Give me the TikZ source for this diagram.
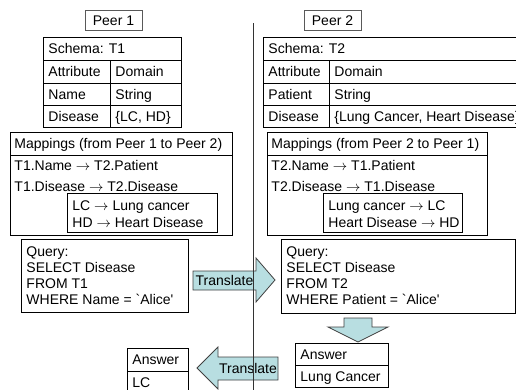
\documentclass[tikz,border=0pt]{standalone}
\usepackage{fontspec}
\setmainfont{Liberation Sans}[Ligatures=TeXOff]
\usepackage{xcolor}
\definecolor{arrowfill}{RGB}{184,222,225}

\tikzset{
  txt/.style={anchor=west, inner sep=0pt, text height=10pt, text depth=0pt,
    font=\fontsize{14}{16}\selectfont},
  peerbox/.style={draw=black!65, line width=0.8pt, inner sep=0pt, minimum width=57pt,
    minimum height=20pt, text height=10pt, text depth=0pt, font=\fontsize{14}{16}\selectfont},
  fatarrow/.style={draw=black!75, line width=0.8pt, fill=arrowfill},
}

\begin{document}
\begin{tikzpicture}[x=1pt, y=-1pt, line width=0.9pt]
  \useasboundingbox (0,0) rectangle (516,389);

  % Peer labels
  \node[peerbox] (peerA) at (113.5,20) {Peer 1};
  \node[peerbox] (peerB) at (332.5,20) {Peer 2};

  % Schema of peer 1
  \draw (43,37) rectangle (181,127);
  \draw (43,60) -- (181,60) (43,83) -- (181,83) (43,105) -- (181,105);
  \draw (110,60) -- (110,127);
  \node[txt] (schemaA) at (48,48.5) {Schema: T1};
  \node[txt] (attrA) at (48,71.5) {Attribute};
  \node[txt] (domA) at (115,71.5) {Domain};
  \node[txt] (nameA) at (48,94) {Name};
  \node[txt] (strA) at (115,94) {String};
  \node[txt] (disA) at (48,116) {Disease};
  \node[txt] (valA) at (115,116) {\{LC, HD\}};

  % Schema of peer 2 (runs off the right edge)
  \draw (530,37) -- (263,37) -- (263,127) -- (530,127);
  \draw (263,60) -- (530,60) (263,83) -- (530,83) (263,105) -- (530,105);
  \draw (329,60) -- (329,127);
  \node[txt] (schemaB) at (268,48.5) {Schema: T2};
  \node[txt] (attrB) at (268,71.5) {Attribute};
  \node[txt] (domB) at (334,71.5) {Domain};
  \node[txt] (nameB) at (268,94) {Patient};
  \node[txt] (strB) at (334,94) {String};
  \node[txt] (disB) at (268,116) {Disease};
  \node[txt] (valB) at (334,116) {\{Lung Cancer, Heart Disease\}};

  % Mappings 1 -> 2
  \draw (10,132) rectangle (232,235);
  \draw (10,155) -- (232,155);
  \draw (67,193) rectangle (217,232);
  \node[txt] (mapA) at (14,143.5) {Mappings (from Peer 1 to Peer 2)};
  \node[txt] (mapA1) at (14,165) {T1.Name $\rightarrow$ T2.Patient};
  \node[txt] (mapA2) at (14,186) {T1.Disease $\rightarrow$ T2.Disease};
  \node[txt] (valmapA1) at (72,205) {LC $\rightarrow$ Lung cancer};
  \node[txt] (valmapA2) at (72,222) {HD $\rightarrow$ Heart Disease};

  % Mappings 2 -> 1
  \draw (267,132) rectangle (487,235);
  \draw (267,155) -- (487,155);
  \draw (323,193) rectangle (462,232);
  \node[txt] (mapB) at (271,143.5) {Mappings (from Peer 2 to Peer 1)};
  \node[txt] (mapB1) at (271,165) {T2.Name $\rightarrow$ T1.Patient};
  \node[txt] (mapB2) at (271,186) {T2.Disease $\rightarrow$ T1.Disease};
  \node[txt] (valmapB1) at (328,205) {Lung cancer $\rightarrow$ LC};
  \node[txt] (valmapB2) at (328,222) {Heart Disease $\rightarrow$ HD};

  % Queries
  \draw (21,239) rectangle (188,312);
  \node[txt] (qA1) at (26,251) {Query:};
  \node[txt] (qA2) at (26,267) {SELECT Disease};
  \node[txt] (qA3) at (26,283) {FROM T1};
  \node[txt] (qA4) at (26,299) {WHERE Name = `Alice'};

  \draw (281,239) rectangle (515,313);
  \node[txt] (qB1) at (286,251) {Query:};
  \node[txt] (qB2) at (286,267) {SELECT Disease};
  \node[txt] (qB3) at (286,283) {FROM T2};
  \node[txt] (qB4) at (286,299) {WHERE Patient = `Alice'};

  % Fat arrows
  \draw[fatarrow] (193,271) -- (256,271) -- (256,258) -- (275,280) -- (256,302)
    -- (256,290) -- (193,290) -- cycle;
  \node[txt, anchor=center] (transA) at (224.5,280.5) {Translate};

  \draw[fatarrow] (344,318) -- (372,318) -- (372,327) -- (388,327) -- (358,342)
    -- (328,327) -- (344,327) -- cycle;

  \draw[fatarrow] (278,357) -- (218,357) -- (218,347) -- (197,368) -- (218,389)
    -- (218,380) -- (278,380) -- cycle;
  \node[txt, anchor=center] (transB) at (248,368.5) {Translate};

  % Answers
  \draw (295,343) rectangle (388,387);
  \draw (295,365) -- (388,365);
  \node[txt] (ansB) at (300,354) {Answer};
  \node[txt] (ansB1) at (300,376) {Lung Cancer};

  \draw (188,395) -- (188,348) -- (127,348) -- (127,395);
  \draw (127,371) -- (188,371);
  \node[txt] (ansA) at (132,359.5) {Answer};
  \node[txt] (ansA1) at (132,382) {LC};

  % Divider between the peers
  \draw[black!80, line width=1pt] (253,23) -- (253,395);
\end{tikzpicture}
\end{document}
